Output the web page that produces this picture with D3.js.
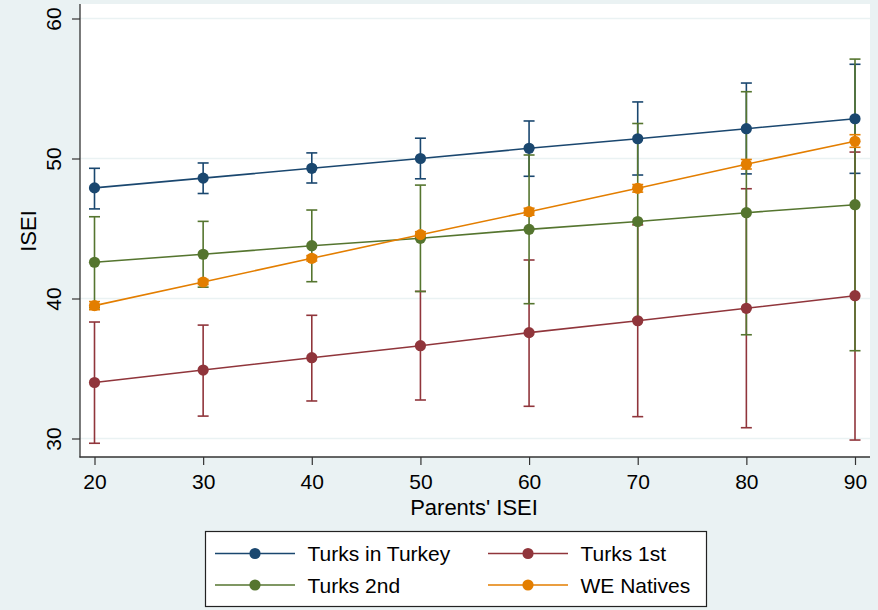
<!DOCTYPE html>
<html>
<head>
<meta charset="UTF-8" />
<title>ISEI by parents' ISEI</title>
<script src="https://cdnjs.cloudflare.com/ajax/libs/d3/7.8.5/d3.min.js"></script>
<style>
    body { margin: 0; background: #eaf2f3; }
    svg text { font-family: "Liberation Sans", Arial, sans-serif; fill: #000; }
</style>
</head>
<body>
<svg id="chart" width="878" height="610"></svg>
<script>
    // data
    var parentsIsei = [20, 30, 40, 50, 60, 70, 80, 90];
    var yTicks = [30, 40, 50, 60];
    var seriesNames = ["Turks in Turkey", "Turks 1st", "Turks 2nd", "WE Natives"];
    var seriesColors = ["#1a476f", "#90353b", "#55752f", "#e37e00"];

    var turkeyMean = [47.9, 48.6, 49.3, 50.0, 50.73, 51.41, 52.13, 52.84];
    var turkeyLo   = [46.4, 47.5, 48.25, 48.55, 48.73, 48.82, 48.9, 48.94];
    var turkeyHi   = [49.3, 49.68, 50.4, 51.45, 52.68, 54.04, 55.39, 56.73];

    var first_Mean = [34.0, 34.89, 35.77, 36.63, 37.56, 38.41, 39.3, 40.2];
    var first_Lo   = [29.66, 31.6, 32.68, 32.75, 32.3, 31.56, 30.77, 29.89];
    var first_Hi   = [38.32, 38.1, 38.8, 40.51, 42.75, 45.26, 47.84, 50.46];

    var secondMean = [42.59, 43.16, 43.77, 44.3, 44.94, 45.5, 46.13, 46.7];
    var secondLo   = [39.34, 40.81, 41.2, 40.5, 39.63, 38.5, 37.41, 36.27];
    var secondHi   = [45.84, 45.51, 46.32, 48.1, 50.25, 52.5, 54.77, 57.1];

    var nativeMean = [39.49, 41.18, 42.87, 44.56, 46.2, 47.87, 49.59, 51.23];
    var nativeLo   = [39.2, 41.0, 42.68, 44.35, 45.95, 47.6, 49.25, 50.8];
    var nativeHi   = [39.78, 41.36, 43.06, 44.77, 46.45, 48.14, 49.93, 51.7];

    var means = [turkeyMean, first_Mean, secondMean, nativeMean];
    var los = [turkeyLo, first_Lo, secondLo, nativeLo];
    var his = [turkeyHi, first_Hi, secondHi, nativeHi];

    var svg = d3.select("#chart");

    var x = d3.scaleLinear().domain([20, 90]).range([94.5, 855]);
    var y = d3.scaleLinear().domain([30, 60]).range([438.5, 18.5]);

    // plot region
    svg.append("rect").attr("x", 80).attr("y", 4).attr("width", 790).attr("height", 453)
        .attr("fill", "#fff");

    // grid
    svg.append("g").selectAll("line").data(yTicks).enter().append("line")
        .attr("x1", 80).attr("x2", 870)
        .attr("y1", function (d) { return y(d); }).attr("y2", function (d) { return y(d); })
        .attr("stroke", "#eaf2f3").attr("stroke-width", 1.5);

    // axes
    var yAxis = svg.append("g").attr("transform", "translate(80,0)")
        .call(d3.axisLeft(y).tickValues(yTicks).tickSize(8).tickPadding(8).tickFormat(d3.format("d")));
    var xAxis = svg.append("g").attr("transform", "translate(0,457)")
        .call(d3.axisBottom(x).tickValues(parentsIsei).tickSize(8).tickPadding(9).tickFormat(d3.format("d")));
    [yAxis, xAxis].forEach(function (a) {
        a.select(".domain").remove();
        a.selectAll(".tick line").attr("stroke", "#333").attr("stroke-width", 1.2);
        a.selectAll("text").style("font-size", "21px");
    });
    svg.append("line").attr("x1", 80).attr("x2", 80).attr("y1", 4).attr("y2", 457.5)
        .attr("stroke", "#333").attr("stroke-width", 1.3);
    svg.append("line").attr("x1", 79.5).attr("x2", 870).attr("y1", 457).attr("y2", 457)
        .attr("stroke", "#333").attr("stroke-width", 1.3);
    yAxis.selectAll(".tick text")
        .attr("text-anchor", "middle")
        .attr("transform", function () { return "translate(-26.5,0) rotate(-90)"; })
        .attr("x", 0).attr("dy", "0.35em");

    // axis titles
    svg.append("text").attr("x", 474).attr("y", 515).attr("text-anchor", "middle")
        .style("font-size", "22px").text("Parents' ISEI");
    svg.append("text").attr("transform", "translate(35.5,231) rotate(-90)").attr("text-anchor", "middle")
        .style("font-size", "22px").text("ISEI");

    // confidence intervals
    var ci = svg.append("g");
    means.forEach(function (m, s) {
        var g = ci.append("g").attr("stroke", seriesColors[s]).attr("stroke-width", 1.6);
        parentsIsei.forEach(function (p, i) {
            var cx = x(p);
            g.append("line").attr("x1", cx).attr("x2", cx)
                .attr("y1", y(los[s][i])).attr("y2", y(his[s][i]));
            [los[s][i], his[s][i]].forEach(function (v) {
                g.append("line").attr("x1", cx - 5.5).attr("x2", cx + 5.5)
                    .attr("y1", y(v)).attr("y2", y(v));
            });
        });
    });

    // lines and markers
    var line = d3.line().x(function (d, i) { return x(parentsIsei[i]); }).y(function (d) { return y(d); });
    means.forEach(function (m, s) {
        svg.append("path").datum(m).attr("d", line).attr("fill", "none")
            .attr("stroke", seriesColors[s]).attr("stroke-width", 1.6);
        svg.append("g").selectAll("circle").data(m).enter().append("circle")
            .attr("cx", function (d, i) { return x(parentsIsei[i]); })
            .attr("cy", function (d) { return y(d); })
            .attr("r", 5.6).attr("fill", seriesColors[s]);
    });

    // legend
    var lg = svg.append("g");
    lg.append("rect").attr("x", 205.5).attr("y", 531.5).attr("width", 501).attr("height", 75)
        .attr("fill", "#fff").attr("stroke", "#222").attr("stroke-width", 1.2);
    var legendPos = [[215, 553.5], [488, 553.5], [215, 585], [488, 585]];
    legendPos.forEach(function (p, s) {
        lg.append("line").attr("x1", p[0]).attr("x2", p[0] + 80).attr("y1", p[1]).attr("y2", p[1])
            .attr("stroke", seriesColors[s]).attr("stroke-width", 1.6);
        lg.append("circle").attr("cx", p[0] + 40).attr("cy", p[1]).attr("r", 5.6).attr("fill", seriesColors[s]);
        lg.append("text").attr("x", p[0] + 92.5).attr("y", p[1]).attr("dy", "0.36em")
            .style("font-size", "21px").text(seriesNames[s]);
    });
</script>
</body>
</html>
